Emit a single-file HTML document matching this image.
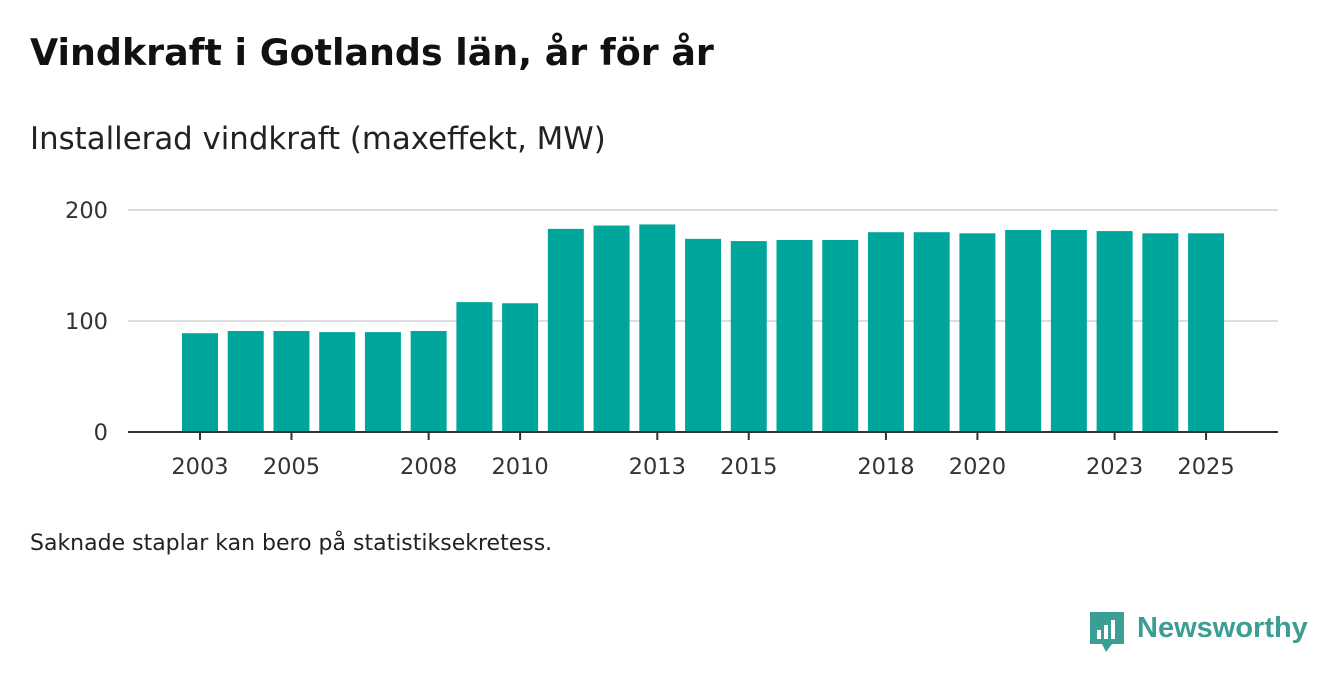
<!DOCTYPE html>
<html><head><meta charset="utf-8"><style>
body{margin:0;width:1340px;height:685px;background:#fff;font-family:"DejaVu Sans",sans-serif;overflow:hidden;position:relative}
.t{position:absolute;left:30px;top:31px;font-size:36.4px;font-weight:bold;color:#111}
.s{position:absolute;left:30px;top:121px;font-size:30.8px;color:#222}
.f{position:absolute;left:30px;top:531px;font-size:22px;color:#222}
</style></head><body>
<div class="t">Vindkraft i Gotlands län, år för år</div>
<div class="s">Installerad vindkraft (maxeffekt, MW)</div>
<svg id="c" width="1340" height="685" style="position:absolute;left:0;top:0"></svg>
<div class="f">Saknade staplar kan bero på statistiksekretess.</div>
<div style="position:absolute;left:1090px;top:612px">
<svg width="36" height="42"><path d="M0 0H34V32H22L16 40L12 32H0Z" fill="#3a9e94"/><rect x="7" y="18" width="4" height="9" fill="#fff"/><rect x="14" y="13" width="4" height="14" fill="#fff"/><rect x="21" y="8" width="4" height="19" fill="#fff"/></svg>
<span style="position:absolute;left:47px;top:0;font-size:29px;font-weight:bold;color:#3a9e94;font-family:'Liberation Sans',sans-serif">Newsworthy</span></div>
<script>
const years=[2003,2004,2005,2006,2007,2008,2009,2010,2011,2012,2013,2014,2015,2016,2017,2018,2019,2020,2021,2022,2023,2024,2025];
const values=[89,91,91,90,90,91,117,116,183,186,187,174,172,173,173,180,180,179,182,182,181,179,179];
const yTicks=[0,100,200];
const xTickYears=[2003,2005,2008,2010,2013,2015,2018,2020,2023,2025];
const svg=document.getElementById('c'),NS='http://www.w3.org/2000/svg';
const y=v=>432-v*1.11, x=yr=>200+(yr-2003)*45.73;
function el(t,a){const e=document.createElementNS(NS,t);for(const k in a)e.setAttribute(k,a[k]);svg.appendChild(e);return e;}
yTicks.forEach(v=>{
 if(v>0){const g=el('line',{x1:128,x2:1278,y1:y(v),y2:y(v),stroke:'#ddd','stroke-width':2});
 
 }
 const t=el('text',{x:108,y:y(v)+8,'text-anchor':'end','font-size':22.5,fill:'#333','font-family':'DejaVu Sans'});t.textContent=v;
 
 
});
years.forEach((yr,i)=>{
 const r=el('rect',{x:x(yr)-18,y:y(values[i]),width:36,height:432-y(values[i]),fill:'#00a69c'});
 
 
});
const a=el('line',{x1:128,x2:1278,y1:432,y2:432,stroke:'#333','stroke-width':2});


xTickYears.forEach(yr=>{
 const m=el('line',{x1:x(yr),x2:x(yr),y1:432,y2:440,stroke:'#333','stroke-width':2});
 
 
 const t=el('text',{x:x(yr),y:474,'text-anchor':'middle','font-size':22.5,fill:'#333','font-family':'DejaVu Sans'});t.textContent=yr;
 
 
});
</script>
</body></html>
